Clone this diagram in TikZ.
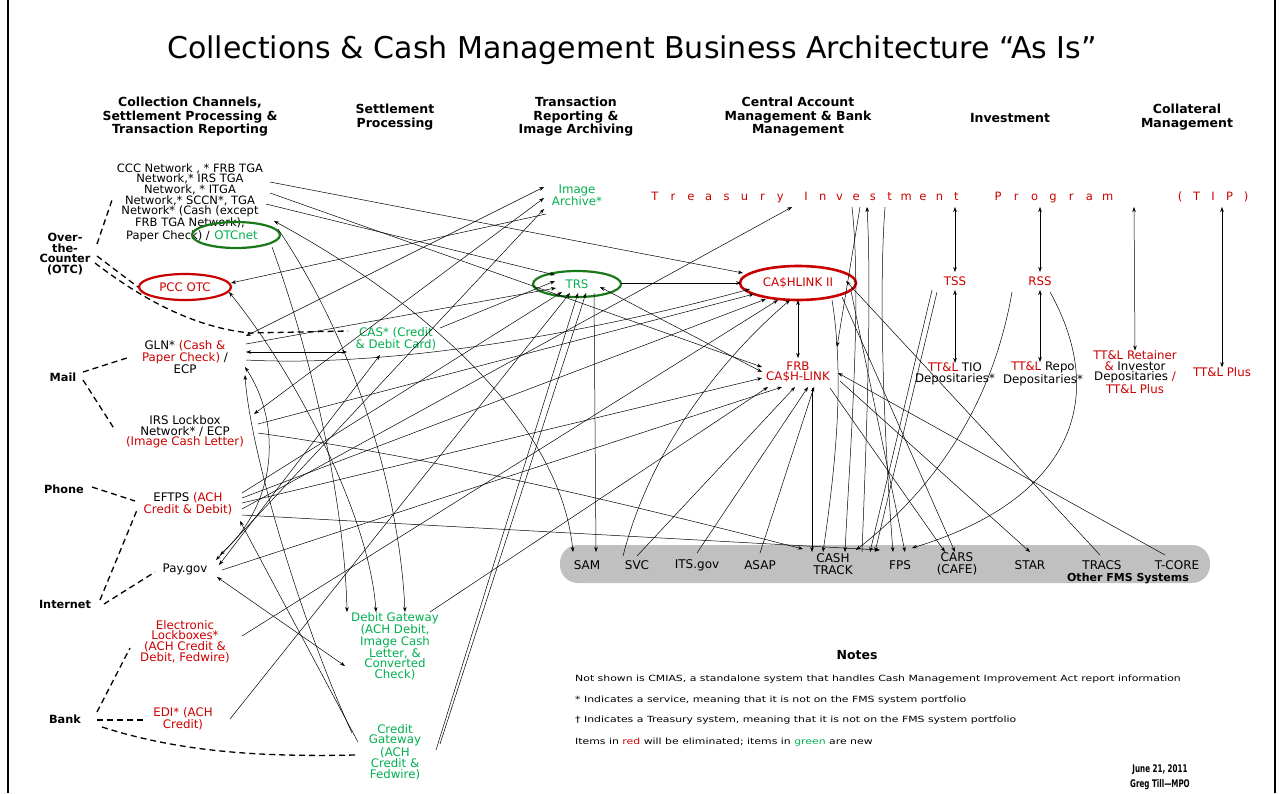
\documentclass[tikz,border=0pt]{standalone}
\usepackage{fontspec}
\setmainfont{DejaVu Sans}
\usetikzlibrary{arrows.meta,shapes.geometric}
\definecolor{rd}{RGB}{204,0,0}
\definecolor{gn}{RGB}{0,176,80}
\definecolor{dkgn}{RGB}{25,120,25}
\definecolor{ellred}{RGB}{200,0,0}
\definecolor{bargray}{RGB}{192,192,192}
\newcommand\myfs[2]{\fontsize{#1}{#2}\selectfont}
\tikzset{
 txt/.style={font=\myfs{11.8}{10.5}, align=center, inner sep=0pt},
 hdr/.style={font=\bfseries\myfs{12.5}{13.5}, align=center, inner sep=0pt},
 lbl/.style={font=\bfseries\myfs{11.3}{10.5}, align=center, inner sep=0pt},
 sys/.style={font=\myfs{12}{11.5}, align=center, inner sep=0pt},
 tipc/.style={font=\myfs{11.5}{11}, text=rd, inner sep=0pt, anchor=base},
 ovl/.style={ellipse, inner sep=0pt, line width=2.2pt},
 conn/.style={line width=0.5pt, -{Stealth[length=5pt,width=3.6pt]}},
 conn2/.style={line width=0.5pt, {Stealth[length=5pt,width=3.6pt]}-{Stealth[length=5pt,width=3.6pt]}},
 dsh/.style={line width=1.3pt, dash pattern=on 6pt off 4pt},
 notetxt/.style={font=\myfs{8.5}{9}, anchor=west, inner sep=0pt}
}
\begin{document}
\begin{tikzpicture}[x=1pt,y=-1pt]
\useasboundingbox (0,0) rectangle (1282,793);
\fill[white] (0,0) rectangle (1282,793);
\draw[line width=1.5pt] (8,0) -- (8,793);
\draw[line width=1.5pt] (1275,0) -- (1275,793);

% title and headers
\node[font=\myfs{30}{32}, inner sep=0pt] (title) at (632,50) {Collections \& Cash Management Business Architecture “As Is”};
\node[hdr] (h1) at (190,117) {Collection Channels,\\Settlement Processing \&\\Transaction Reporting};
\node[hdr] (h2) at (395,117) {Settlement\\Processing};
\node[hdr] (h3) at (576,117) {Transaction\\Reporting \&\\Image Archiving};
\node[hdr] (h4) at (798,117) {Central Account\\Management \& Bank\\Management};
\node[hdr] (h5) at (1010,118) {Investment};
\node[hdr] (h6) at (1187,117) {Collateral\\Management};

% channel labels
\node[lbl] (otc) at (65,254) {Over-\\the-\\Counter\\(OTC)};
\node[lbl] (mail) at (63,377) {Mail};
\node[lbl] (phone) at (64,489) {Phone};
\node[lbl] (internet) at (65,604) {Internet};
\node[lbl] (bank) at (65,719) {Bank};

% left column nodes
\node[txt, font=\myfs{11.5}{10.6}] (otcblk) at (190,196) {CCC Network , * FRB TGA\\Network,* IRS TGA\\Network, * ITGA\\Network,* SCCN*, TGA\\Network* (Cash (except\\FRB TGA Network),};
\node[txt, font=\myfs{11.5}{10.6}, anchor=east] (paper) at (210,236) {Paper Check) /};
\node[ovl, draw=dkgn, minimum width=88pt, minimum height=26pt, font=\myfs{11.8}{10.5}, text=gn] (otcnet) at (236,235) {OTCnet};
\node[ovl, draw=ellred, minimum width=92pt, minimum height=26pt, font=\myfs{11.8}{10.5}, text=rd] (pccotc) at (185,287) {PCC OTC};
\node[txt] (gln) at (185,357) {GLN* \textcolor{rd}{(Cash \&}\\\textcolor{rd}{Paper Check)} /\\ECP};
\node[txt, text=gn] (cas) at (396,339) {CAS* (Credit\\\& Debit Card)};
\node[txt] (irs) at (185,432) {IRS Lockbox\\Network* / ECP\\\textcolor{rd}{(Image Cash Letter)}};
\node[txt] (eftps) at (188,504) {EFTPS \textcolor{rd}{(ACH}\\\textcolor{rd}{Credit \& Debit)}};
\node[txt] (paygov) at (185,569) {Pay.gov};
\node[txt, text=rd] (elock) at (185,642) {Electronic\\Lockboxes*\\(ACH Credit \&\\Debit, Fedwire)};
\node[txt, text=rd] (edi) at (183,719) {EDI* (ACH\\Credit)};
\node[txt, text=gn] (debitgw) at (395,646) {Debit Gateway\\(ACH Debit,\\Image Cash\\Letter, \&\\Converted\\Check)};
\node[txt, text=gn] (creditgw) at (395,752) {Credit\\Gateway\\(ACH\\Credit \&\\Fedwire)};

% middle nodes
\node[txt, text=gn] (imgarch) at (577,195) {Image\\Archive*};
\node[ovl, draw=dkgn, minimum width=88pt, minimum height=26pt, font=\myfs{11.8}{10.5}, text=gn] (trs) at (577,284) {TRS};
\node[ovl, draw=ellred, line width=2.6pt, minimum width=116pt, minimum height=34pt, font=\myfs{11.8}{10.5}, text=rd] (cashlink) at (798,283) {CA\$HLINK II};
\node[txt, text=rd] (frb) at (798,372) {FRB\\CA\$H-LINK};

% TIP
\foreach \c [count=\i from 0] in {T,r,e,a,s,u,r,y} \node[tipc] (tipa\i) at (655+\i*17.9,200) {\c};
\foreach \c [count=\i from 0] in {I,n,v,e,s,t,m,e,n,t} \node[tipc] (tipb\i) at (806+\i*16.7,200) {\c};
\foreach \c [count=\i from 0] in {P,r,o,g,r,a,m} \node[tipc] (tipc\i) at (998+\i*18.3,200) {\c};
\foreach \c [count=\i from 0] in {{(},T,I,P,{)}} \node[tipc] (tipd\i) at (1180+\i*16.5,200) {\c};

\node[txt, text=rd] (tss) at (955,281) {TSS};
\node[txt, text=rd] (rss) at (1040,281) {RSS};
\node[txt] (tio) at (955,374) {\textcolor{rd}{TT\&L} TIO\\Depositaries*};
\node[txt] (repo) at (1043,374) {\textcolor{rd}{TT\&L} Repo\\Depositaries*};
\node[txt] (retainer) at (1135,372) {\textcolor{rd}{TT\&L Retainer}\\\textcolor{rd}{\&} Investor\\Depositaries \textcolor{rd}{/}\\\textcolor{rd}{TT\&L Plus}};
\node[txt, text=rd] (ttlplus) at (1222,372) {TT\&L Plus};

% FMS bar
\node[fill=bargray, rounded corners=18pt, minimum width=650pt, minimum height=38pt, inner sep=0pt] (bar) at (885,564) {};
\node[sys] (sam) at (587,565) {SAM};
\node[sys] (svc) at (637,565) {SVC};
\node[sys] (itsgov) at (697,565) {ITS.gov};
\node[sys] (asap) at (760,565) {ASAP};
\node[sys] (cashtrack) at (833,564) {CASH\\TRACK};
\node[sys] (fps) at (900,565) {FPS};
\node[sys] (cars) at (957,564) {CARS\\(CAFE)};
\node[sys] (star) at (1030,565) {STAR};
\node[sys] (tracs) at (1102,565) {TRACS};
\node[sys] (tcore) at (1177,565) {T-CORE};
\node[font=\bfseries\myfs{11}{11}, inner sep=0pt] (other) at (1128,578) {Other FMS Systems};

% notes
\node[font=\bfseries\myfs{12.5}{12}, inner sep=0pt] (notes) at (857,655) {Notes};
\node[notetxt] (n1) at (575,679) {\scalebox{1.28}[1]{Not shown is CMIAS, a standalone system that handles Cash Management Improvement Act report information}};
\node[notetxt] (n2) at (575,700) {\scalebox{1.28}[1]{* Indicates a service, meaning that it is not on the FMS system portfolio}};
\node[notetxt] (n3) at (575,720) {\scalebox{1.28}[1]{† Indicates a Treasury system, meaning that it is not on the FMS system portfolio}};
\node[notetxt] (n4) at (575,742) {\scalebox{1.28}[1]{Items in \textcolor{rd}{red} will be eliminated; items in \textcolor{gn}{green} are new}};
\node[font=\bfseries\myfs{10.5}{10.5}, inner sep=0pt] (date) at (1160,770) {\scalebox{0.68}[1]{June 21, 2011}};
\node[font=\bfseries\myfs{10.5}{10.5}, inner sep=0pt] (author) at (1160,785) {\scalebox{0.68}[1]{Greg Till—MPO}};

% ports
\coordinate (o1) at (270,182); \coordinate (o2) at (270,193); \coordinate (o3) at (266,204);
\coordinate (o4) at (274,221); \coordinate (o5) at (278,229); \coordinate (on1) at (272,247);
\coordinate (pc1) at (231,283); \coordinate (pc2) at (229,292);
\coordinate (g1) at (246,336); \coordinate (g2) at (246,344); \coordinate (g3) at (246,352);
\coordinate (g4) at (246,360); \coordinate (g5) at (245,367); \coordinate (g6) at (245,375);
\coordinate (c1) at (347,352); \coordinate (c2) at (380,355); \coordinate (c3) at (440,328);
\coordinate (i1) at (254,414); \coordinate (i2) at (258,424); \coordinate (i3) at (258,433);
\coordinate (e1) at (242,493); \coordinate (e2) at (242,498); \coordinate (e3) at (242,503);
\coordinate (e4) at (242,509); \coordinate (e5) at (242,515); \coordinate (e6) at (240,521);
\coordinate (p1) at (216,560); \coordinate (p2) at (219,565); \coordinate (p3) at (222,570);
\coordinate (p4) at (217,577); \coordinate (p5) at (220,555);
\coordinate (l1) at (242,636); \coordinate (d1) at (230,719);
\coordinate (dg1) at (347,612); \coordinate (dg2) at (376,612); \coordinate (dg3) at (405,612);
\coordinate (dg4) at (430,612); \coordinate (dg5) at (345,666);
\coordinate (cg0) at (352,733); \coordinate (cg1) at (358,742); \coordinate (cg2) at (436,750); \coordinate (cg3) at (440,744);
\coordinate (ia1) at (544,187); \coordinate (ia2) at (544,198); \coordinate (ia3) at (544,209); \coordinate (ia4) at (546,214);
\coordinate (t1) at (555,275); \coordinate (t2) at (555,281); \coordinate (t3) at (556,288);
\coordinate (t4) at (562,292); \coordinate (t5) at (570,293); \coordinate (t6) at (578,293);
\coordinate (t7) at (586,293); \coordinate (t8) at (594,293); \coordinate (t9) at (600,287); \coordinate (t10) at (621,283);
\coordinate (k1) at (743,273); \coordinate (k2) at (741,283); \coordinate (k3) at (750,289);
\coordinate (k4) at (754,294); \coordinate (k5) at (766,299); \coordinate (k6) at (778,300);
\coordinate (k7) at (790,300); \coordinate (k8) at (798,300); \coordinate (k9) at (846,281);
\coordinate (k10) at (832,300); \coordinate (k11) at (842,297); \coordinate (k12) at (851,291);
\coordinate (f1) at (762,367); \coordinate (f1b) at (762,372); \coordinate (f2) at (762,378);
\coordinate (f3) at (768,387); \coordinate (f4) at (782,387); \coordinate (f5) at (795,387);
\coordinate (f6) at (808,387); \coordinate (f7) at (814,387); \coordinate (f8) at (798,358);
\coordinate (f9) at (812,388); \coordinate (f10) at (838,373); \coordinate (f11) at (840,381);
\coordinate (f12) at (830,388); \coordinate (f13) at (837,347);
\coordinate (tp1) at (792,207); \coordinate (tp2) at (852,207); \coordinate (tp2b) at (860,207);
\coordinate (tp3) at (867,207); \coordinate (tp4) at (885,207);
\coordinate (tp5) at (955,207); \coordinate (tp6) at (1040,207); \coordinate (tp7) at (1134,207); \coordinate (tp8) at (1222,207);
\coordinate (ts1) at (955,272); \coordinate (ts2) at (955,290); \coordinate (ts3) at (932,290); \coordinate (ts4) at (937,292);
\coordinate (rs1) at (1040,272); \coordinate (rs2) at (1040,290); \coordinate (rs3) at (1012,292); \coordinate (rs4) at (1050,292);
\coordinate (s1) at (573,552); \coordinate (s2) at (596,552);
\coordinate (v1) at (623,556); \coordinate (v2) at (637,556);
\coordinate (it1) at (697,553); \coordinate (as1) at (760,553);
\coordinate (ct0) at (803,549); \coordinate (ct1) at (812,552); \coordinate (ct2) at (823,552);
\coordinate (ct3) at (845,552); \coordinate (ct4) at (862,552); \coordinate (ct5) at (870,552); \coordinate (ct6) at (856,550); \coordinate (ct7) at (875,552);
\coordinate (fp1) at (880,550); \coordinate (fp2) at (893,552); \coordinate (fp3) at (905,552); \coordinate (fp4) at (912,548);
\coordinate (ca1) at (945,552); \coordinate (ca2) at (955,552);
\coordinate (st1) at (1030,552); \coordinate (tr1) at (1100,555); \coordinate (tc1) at (1165,555);

% dashed channel links
\coordinate (otcA) at (97,244); \coordinate (otcB) at (112,200);
\coordinate (otcC) at (97,256); \coordinate (otcD) at (95,263); \coordinate (casW) at (348,331);
\coordinate (mailA) at (83,372); \coordinate (glnW) at (130,357);
\coordinate (mailB) at (83,380); \coordinate (irsW) at (115,430);
\coordinate (phoneA) at (92,487); \coordinate (eftW) at (135,501);
\coordinate (intA) at (100,600); \coordinate (eftW2) at (137,510);
\coordinate (intB) at (104,604); \coordinate (payW) at (155,572);
\coordinate (bankA) at (97,712); \coordinate (elW) at (130,648);
\coordinate (bankB) at (97,720); \coordinate (ediW) at (143,720);
\coordinate (bankC) at (102,727); \coordinate (cgW) at (355,755);
\draw[dsh] (otcA) -- (otcB);
\draw[dsh] (otcC) -- (pccotc.west);
\draw[dsh] (otcD) .. controls (150,305) and (200,328) .. (250,333) -- (casW);
\draw[dsh] (mailA) -- (glnW);
\draw[dsh] (mailB) -- (irsW);
\draw[dsh] (phoneA) -- (eftW);
\draw[dsh] (intA) -- (eftW2);
\draw[dsh] (intB) -- (payW);
\draw[dsh] (bankA) -- (elW);
\draw[dsh] (bankB) -- (ediW);
\draw[dsh] (bankC) .. controls (180,752) and (260,757) .. (cgW);

% solid connectors
\draw[conn] (o1) -- (k1);
\draw[conn] (o2) -- (f1);
\draw[conn] (o3) -- (t1);
\draw[conn2] (o4) .. controls (420,300) and (560,420) .. (s1);
\draw[conn] (on1) .. controls (320,380) and (345,520) .. (dg1);
\draw[conn2] (pc2) .. controls (300,380) and (370,520) .. (dg2);
\draw[conn] (o5) .. controls (360,350) and (400,500) .. (dg3);
\draw[conn] (ia4) -- (pc1);
\draw[conn2] (g1) -- (ia1);
\draw[conn2] (i1) -- (ia2);
\draw[conn2] (p1) -- (ia3);
\draw[conn2] (p2) -- (c2);
\draw[conn2] (g3) -- (c1);
\draw[conn] (c3) -- (t2);
\draw[conn] (g2) -- (t3);
\draw[conn] (g4) .. controls (400,368) and (600,330) .. (k3);
\draw[conn] (i2) -- (k4);
\draw[conn] (i3) .. controls (450,460) and (650,510) .. (ct0);
\draw[conn] (e1) -- (t4);
\draw[conn] (e2) -- (k5);
\draw[conn] (e3) -- (f2);
\draw[conn] (e4) -- (tp1);
\draw[conn] (e5) -- (fp1);
\draw[conn] (cg1) -- (e6);
\draw[conn] (p3) -- (f4);
\draw[conn2] (p4) -- (dg5);
\draw[conn2] (g5) .. controls (280,420) and (280,500) .. (p5);
\draw[conn] (cg0) .. controls (300,620) and (250,450) .. (g6);
\draw[conn] (l1) -- (k6);
\draw[conn] (d1) -- (t5);
\draw[conn] (cg2) -- (t6);
\draw[conn] (cg3) -- (t7);
\draw[conn] (t8) -- (s2);
\draw[conn2] (t9) -- (f1b);
\draw[conn] (t10) -- (k2);
\draw[conn] (dg4) -- (f3);
\draw[conn] (v1) .. controls (650,450) and (720,360) .. (k7);
\draw[conn] (v2) -- (f5);
\draw[conn] (it1) -- (f6);
\draw[conn] (as1) -- (f7);
\draw[conn] (f9) -- (ct1);
\draw[conn] (k10) .. controls (845,380) and (835,470) .. (ct2);
\draw[conn] (tp2) .. controls (862,300) and (850,450) .. (ct3);
\draw[conn] (ct4) .. controls (866,450) and (872,300) .. (tp3);
\draw[conn] (tp4) .. controls (878,300) and (885,450) .. (fp2);
\draw[conn] (tp2b) -- (f13);
\draw[conn] (ts3) -- (ct5);
\draw[conn] (ts4) -- (ct7);
\draw[conn] (rs3) .. controls (990,420) and (920,500) .. (ct6);
\draw[conn] (rs4) .. controls (1110,400) and (1070,500) .. (fp4);
\draw[conn] (tr1) -- (k9);
\draw[conn] (tc1) -- (f10);
\draw[conn] (f11) -- (st1);
\draw[conn] (f12) -- (ca1);
\draw[conn] (k11) -- (ca2);
\draw[conn] (k12) -- (fp3);
\draw[conn2] (k8) -- (f8);
\draw[conn2] (tp5) -- (ts1);
\draw[conn2] (ts2) -- (tio.north);
\draw[conn2] (tp6) -- (rs1);
\draw[conn2] (rs2) -- ([xshift=-3pt]repo.north);
\draw[conn2] (tp7) -- (retainer.north);
\draw[conn2] (tp8) -- (ttlplus.north);
\end{tikzpicture}
\end{document}
